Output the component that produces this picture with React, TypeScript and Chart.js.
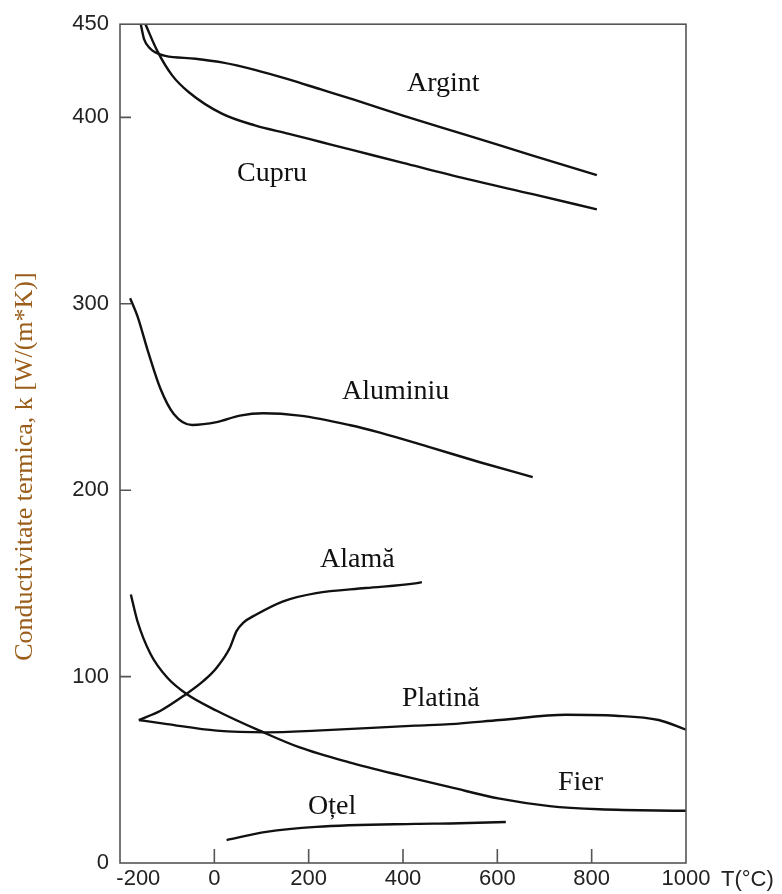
import React, { useEffect, useRef } from "react";
import { Chart, registerables } from "chart.js";

Chart.register(...registerables);

// ---- axis ticks ----
const xTickValues = [-200, 0, 200, 400, 600, 800, 1000];
const yTickValues = [0, 100, 200, 300, 400, 450];
const xInnerTicks = [0, 200, 400, 600, 800];
const yInnerTicks = [100, 200, 300, 400];

// ---- series (T in °C, k in W/(m*K)) ----
const argintT = [-156, -149, -135, -125, -104, -40, 16, 86, 156, 226, 296, 400, 535, 675, 811];
const argintK = [450, 442, 436.7, 434.9, 433, 431.5, 429.5, 425.5, 420.5, 415, 409.5, 401, 390.5, 379.5, 369];

const cupruT = [-146, -121, -89, -54, 16, 86, 156, 226, 296, 400, 535, 675, 811];
const cupruK = [450, 435.7, 422.4, 413.5, 402, 395.7, 391.3, 386.8, 382.3, 375.6, 367, 358.8, 350.7];

const aluminiuT = [-178.5, -163, -142, -114, -86, -47, 5, 54, 104, 181, 286, 353, 458, 563, 675];
const aluminiuK = [303, 293.4, 275.6, 254.3, 240.9, 235, 236.5, 240, 241.3, 240, 235, 230.8, 223, 215, 207];

const alamaT = [-160, -114, -65, -23, 5, 33, 47, 61, 89, 146, 216, 321, 426, 440];
const alamaK = [76.7, 81.7, 89.7, 97.7, 104.8, 115.5, 124.4, 128.8, 133.3, 140.4, 144.8, 147.5, 150, 150.7];

const platinaT = [-160, -100, 5, 110, 216, 426, 500, 605, 746, 851, 942, 1000];
const platinaK = [76.7, 74.5, 71, 70.1, 71, 73.7, 74.5, 76.7, 79.5, 79, 76.7, 71.5];

const fierT = [-177, -163, -135, -100, -58, 5, 96, 181, 286, 395, 500, 605, 711, 816, 1000];
const fierK = [144, 129.7, 112, 99.5, 90.5, 81.7, 71, 62, 54, 47, 40.7, 34.5, 30.5, 28.8, 28];

const otelT = [26, 110, 216, 426, 500, 618];
const otelK = [12.3, 16.7, 19.4, 21, 21.2, 22];

// ---- series names and label anchors (data coordinates, left/baseline) ----
const seriesNames = ["Argint", "Cupru", "Aluminiu", "Alamă", "Platină", "Fier", "Oțel"];
const labelT = [408.5, 48, 270.7, 224, 397.9, 728.6, 198.6];
const labelK = [414.2, 365.7, 248.8, 159, 84.3, 39, 26.1];

const yTitle = "Conductivitate termica, k [W/(m*K)]";
const xUnit = "T(°C)";

const seriesT = [argintT, cupruT, aluminiuT, alamaT, platinaT, fierT, otelT];
const seriesK = [argintK, cupruK, aluminiuK, alamaK, platinaK, fierK, otelK];

const AXIS_COLOR = "#555";
const TICK_FONT = { family: "'Liberation Sans', Arial, sans-serif", size: 22 };

const framePlugin = {
  id: "framePlugin",
  afterDraw(chart: any) {
    const { ctx, chartArea } = chart;
    const xs = chart.scales.x;
    const ys = chart.scales.y;
    const { left, right, top, bottom } = chartArea;
    ctx.save();
    // frame
    ctx.strokeStyle = AXIS_COLOR;
    ctx.lineWidth = 1.6;
    ctx.strokeRect(left, top, right - left, bottom - top);
    // inward ticks
    ctx.beginPath();
    for (const v of yInnerTicks) {
      const y = ys.getPixelForValue(v);
      ctx.moveTo(left, y);
      ctx.lineTo(left + 11, y);
    }
    for (const v of xInnerTicks) {
      const x = xs.getPixelForValue(v);
      ctx.moveTo(x, bottom);
      ctx.lineTo(x, bottom - 14);
    }
    ctx.stroke();

    // series labels
    ctx.fillStyle = "#111";
    ctx.font = "28px 'Liberation Serif', 'Times New Roman', serif";
    ctx.textAlign = "left";
    ctx.textBaseline = "alphabetic";
    seriesNames.forEach((name, i) => {
      ctx.fillText(name, xs.getPixelForValue(labelT[i]), ys.getPixelForValue(labelK[i]));
    });

    // x unit
    ctx.fillStyle = "#222";
    ctx.font = "22px 'Liberation Sans', Arial, sans-serif";
    ctx.textBaseline = "middle";
    ctx.fillText(xUnit, right + 35, bottom + 17);

    // y title
    ctx.fillStyle = "#9b5e1a";
    ctx.font = "26px 'Liberation Serif', 'Times New Roman', serif";
    ctx.textAlign = "center";
    ctx.textBaseline = "alphabetic";
    ctx.translate(32, (top + bottom) / 2 + 23);
    ctx.rotate(-Math.PI / 2);
    ctx.fillText(yTitle, 0, 0);
    ctx.restore();
  },
};

export default function App() {
  const ref = useRef<HTMLCanvasElement | null>(null);

  useEffect(() => {
    if (!ref.current) return;
    const datasets = seriesNames.map((name, i) => ({
      label: name,
      data: seriesT[i].map((t, j) => ({ x: t, y: seriesK[i][j] })),
      showLine: true,
      borderColor: "#111",
      borderWidth: 2.4,
      pointRadius: 0,
      pointHoverRadius: 0,
      cubicInterpolationMode: "monotone" as const,
      fill: false,
    }));

    const chart = new Chart(ref.current, {
      type: "scatter",
      data: { datasets },
      options: {
        animation: false,
        responsive: false,
        maintainAspectRatio: false,
        layout: { padding: { top: 20, right: 96, left: 0, bottom: 0 } },
        plugins: { legend: { display: false }, tooltip: { enabled: false } },
        scales: {
          x: {
            type: "linear",
            min: -200,
            max: 1000,
            afterBuildTicks: (s: any) => {
              s.ticks = xTickValues.map((v) => ({ value: v }));
            },
            afterFit: (s: any) => {
              s.height = 31;
            },
            grid: { display: false, drawTicks: false },
            border: { display: false },
            ticks: {
              color: "#222",
              font: TICK_FONT,
              padding: 3,
              maxRotation: 0,
              autoSkip: false,
              callback: (v: any) => (Number(v) === -200 ? "      -200" : String(v)),
            },
          },
          y: {
            type: "linear",
            min: 0,
            max: 450,
            afterBuildTicks: (s: any) => {
              s.ticks = yTickValues.map((v) => ({ value: v }));
            },
            afterFit: (s: any) => {
              s.width = 120;
            },
            grid: { display: false, drawTicks: false },
            border: { display: false },
            ticks: {
              color: "#222",
              font: TICK_FONT,
              padding: 11,
              autoSkip: false,
              callback: (v: any) => String(v),
            },
          },
        },
      },
      plugins: [framePlugin],
    });
    return () => chart.destroy();
  }, []);

  return (
    <div style={{ position: "absolute", left: 0, top: 0, width: 782, height: 894, background: "#fff" }}>
      <canvas ref={ref} width={782} height={894} style={{ width: 782, height: 894, display: "block" }} />
    </div>
  );
}
